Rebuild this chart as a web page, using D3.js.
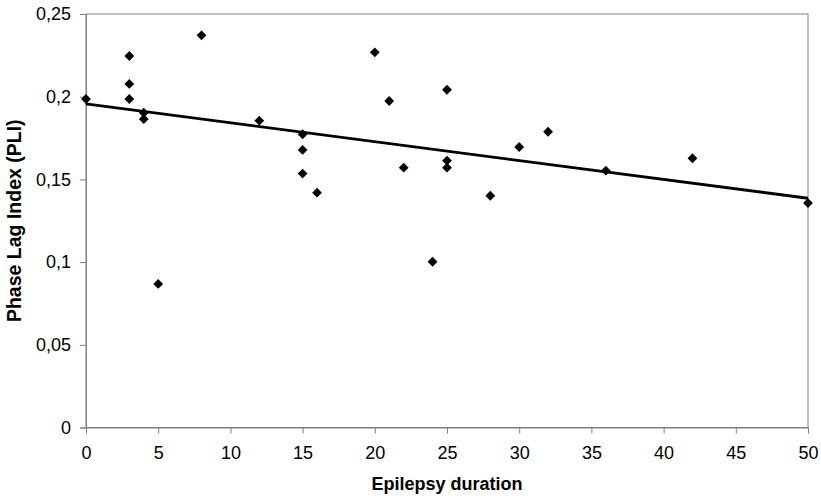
<!DOCTYPE html>
<html><head><meta charset="utf-8">
<script src="https://cdn.jsdelivr.net/npm/d3@7"></script>
<style>body{margin:0;background:#fff}svg text{font-family:"Liberation Sans",Arial,sans-serif}</style>
</head><body><svg id="c" width="821" height="498"></svg>
<script>
const duration = [0,3,3,3,4,4,5,8,12,15,15,15,16,20,21,22,24,25,25,25,28,30,32,36,42,50];
const pli = [0.1986,0.2246,0.2077,0.1986,0.1903,0.1865,0.0868,0.2371,0.1855,0.1773,0.1678,0.1535,0.1420,0.2268,0.1974,0.1571,0.1002,0.2042,0.1613,0.1571,0.1401,0.1696,0.1788,0.1553,0.1628,0.1357];
const trendX = [0,50];
const trendY = [0.1956,0.1386];
const xTicks = [0,5,10,15,20,25,30,35,40,45,50];
const yTicks = [0,0.05,0.1,0.15,0.2,0.25];
const yTickLabels = ["0","0,05","0,1","0,15","0,2","0,25"];

const svg = d3.select("#c");
const L=86, R=808, T=14, B=427.5;
const x = d3.scaleLinear().domain([0,50]).range([L,R]);
const y = d3.scaleLinear().domain([0,0.25]).range([B,T]);

svg.append("rect").attr("x",L).attr("y",T).attr("width",R-L).attr("height",B-T)
  .attr("fill","none").attr("stroke","#808080").attr("stroke-width",1);

const xAxis = svg.append("g").attr("transform",`translate(0,${B})`)
  .call(d3.axisBottom(x).tickValues(xTicks).tickSize(6).tickPadding(13).tickFormat(d3.format("d")));
const yAxis = svg.append("g").attr("transform",`translate(${L},0)`)
  .call(d3.axisLeft(y).tickValues(yTicks).tickSize(6).tickPadding(9).tickFormat((d,i)=>yTickLabels[i]));
[xAxis,yAxis].forEach(g=>{
  g.select(".domain").attr("stroke","#808080");
  g.selectAll(".tick line").attr("stroke","#808080");
  g.selectAll("text").attr("fill","#000").style("font-size","18px");
});

svg.append("path").datum(trendX.map((d,i)=>[d,trendY[i]]))
  .attr("d",d3.line().x(d=>x(d[0])).y(d=>y(d[1])))
  .attr("stroke","#000").attr("stroke-width",2.8).attr("fill","none");

svg.append("g").selectAll("path").data(duration.map((d,i)=>[d,pli[i]])).join("path")
  .attr("transform",d=>`translate(${x(d[0])},${y(d[1])})`)
  .attr("d","M0,-4.9L4.9,0L0,4.9L-4.9,0Z").attr("fill","#000");

svg.append("text").attr("x",(L+R)/2).attr("y",490).attr("text-anchor","middle")
  .style("font-size","18px").style("font-weight","bold").text("Epilepsy duration");
svg.append("text").attr("transform",`translate(21,${(T+B)/2}) rotate(-90)`).attr("text-anchor","middle")
  .style("font-size","19.5px").style("font-weight","bold").text("Phase Lag Index (PLI)");
</script></body></html>
